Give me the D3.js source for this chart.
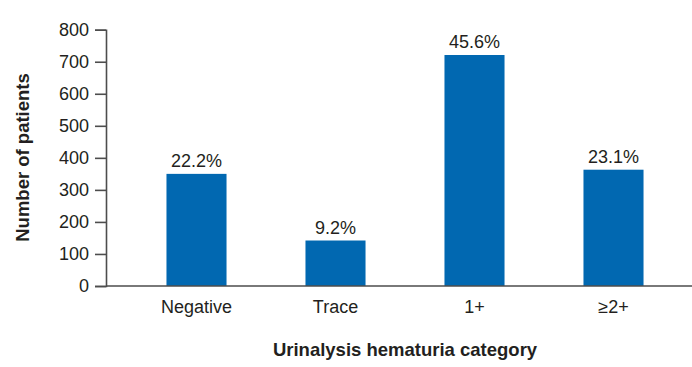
<!DOCTYPE html>
<html><head><meta charset="utf-8">
<script src="https://cdn.jsdelivr.net/npm/d3@7/dist/d3.min.js"></script>
<style>
html,body{margin:0;padding:0;background:#fff;}
svg{display:block;font-family:"Liberation Sans",Arial,sans-serif;}
</style></head>
<body><svg id="c" width="692" height="367"></svg>
<script>
const categories = ["Negative", "Trace", "1+", "\u22652+"];
const patients = [350, 142, 721, 363];
const percentLabels = ["22.2%", "9.2%", "45.6%", "23.1%"];
const yTicks = [0, 100, 200, 300, 400, 500, 600, 700, 800];
const yTitle = "Number of patients";
const xTitle = "Urinalysis hematuria category";

const svg = d3.select("#c");
const textColor = "#231f20", axisColor = "#4d4d4d", barColor = "#0168b1";
const y = d3.scaleLinear().domain([0, 800]).range([286, 29.7]);
const x = d3.scaleBand().domain(categories).range([127, 683]).paddingInner(0.568).paddingOuter(0.284);

// bars
svg.append("g").selectAll("rect").data(categories).join("rect")
  .attr("x", d => x(d)).attr("width", x.bandwidth())
  .attr("y", (d, i) => y(patients[i])).attr("height", (d, i) => y(0) - y(patients[i]))
  .attr("fill", barColor);

// y axis
const ya = svg.append("g").attr("transform", "translate(106,0)")
  .call(d3.axisLeft(y).tickValues(yTicks).tickSize(11).tickPadding(6).tickFormat(d3.format("d")));
ya.select(".domain").attr("stroke", axisColor).attr("stroke-width", 1.6);
ya.selectAll(".tick line").attr("stroke", axisColor).attr("stroke-width", 1.6);
ya.selectAll(".tick text").attr("fill", textColor).style("font-size", "18px");

// x axis
const xa = svg.append("g").attr("transform", "translate(0,286)")
  .call(d3.axisBottom(x).tickSize(0).tickPadding(14));
xa.select(".domain").attr("d", "M106,0H692").attr("stroke", axisColor).attr("stroke-width", 1.6);
xa.selectAll(".tick text").attr("fill", textColor).style("font-size", "18px");

// value labels
svg.append("g").selectAll("text").data(categories).join("text")
  .attr("x", d => x(d) + x.bandwidth() / 2)
  .attr("y", (d, i) => y(patients[i]) - 7)
  .attr("text-anchor", "middle").attr("fill", textColor).style("font-size", "18px")
  .text((d, i) => percentLabels[i]);

// titles
svg.append("text").attr("transform", "translate(28.5,157.5) rotate(-90)")
  .attr("text-anchor", "middle").attr("fill", textColor)
  .style("font-size", "18.5px").style("font-weight", "bold").text(yTitle);
svg.append("text").attr("x", 405).attr("y", 356)
  .attr("text-anchor", "middle").attr("fill", textColor)
  .style("font-size", "18.5px").style("font-weight", "bold").text(xTitle);
</script></body></html>
